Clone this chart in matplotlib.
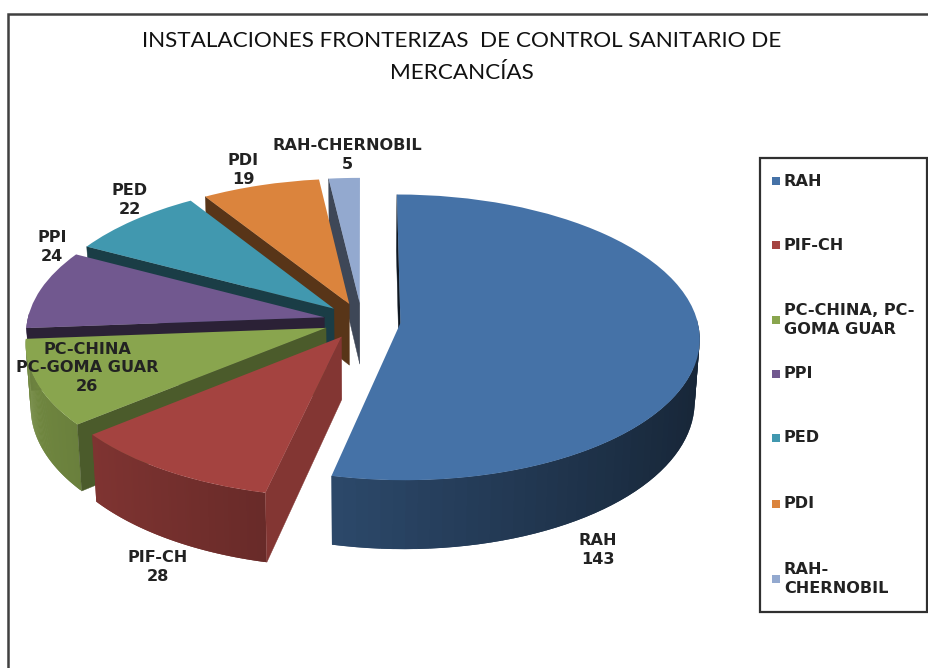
import numpy as np
import matplotlib
matplotlib.use("Agg")
import matplotlib.pyplot as plt
from matplotlib.collections import PolyCollection
from matplotlib.patches import Rectangle
from matplotlib.transforms import Transform

# data
CATEGORIES = ["RAH", "PIF-CH", "PC-CHINA, PC-\nGOMA GUAR", "PPI", "PED", "PDI", "RAH-\nCHERNOBIL"]
LABELS = ["RAH", "PIF-CH", "PC-CHINA\nPC-GOMA GUAR", "PPI", "PED", "PDI", "RAH-CHERNOBIL"]
VALUES = [143, 28, 26, 24, 22, 19, 5]
TITLE_LINES = ["INSTALACIONES FRONTERIZAS  DE CONTROL SANITARIO DE", "MERCANCÍAS"]

# style
COLORS = ["#4572A7", "#A44340", "#89A54E", "#71588F", "#4198AF", "#DB843D", "#93A9CF"]
FACE_SHADE = [0.2, 0.8, 0.55, 0.38, 0.4, 0.4, 0.42]
LABEL_POS = [(598, 550), (158, 567), (87, 368), (52, 247), (130, 200), (243, 170), (347, 155)]
LEGEND_Y = [181, 245, 320, 374, 438, 504, 579]
EXPLODE = 0.13

# projection of the tilted pie, in pixels
CX, CY, RX, RY = 362, 321, 297, 141
PERSP = 0.1
DEPTH = 62
BOTTOM_SCALE = 0.985


def project(u, v, low=False):
    w = 1 + PERSP * v
    x = CX + RX * u / w
    y = CY - RY * v / w
    if low:
        x = CX + (x - CX) * BOTTOM_SCALE
        y = y + DEPTH / w
    return x, y


class PieProjection(Transform):
    input_dims = 2
    output_dims = 2
    is_separable = False

    def transform_non_affine(self, values):
        x, y = project(values[:, 0], values[:, 1])
        return np.column_stack([x, y])


def shaded(color, factor):
    rgb = np.array(matplotlib.colors.to_rgb(color))
    return tuple(rgb * factor)


def draw_sides(ax, wedge, color, face_shade, zorder):
    cu, cv = wedge.center
    start = np.deg2rad(wedge.theta2)  # clockwise pie, so theta2 is the leading edge
    end = np.deg2rad(wedge.theta1)
    t = np.linspace(start, end, 90)
    u = cu + wedge.r * np.cos(t)
    v = cv + wedge.r * np.sin(t)

    # outer rim, lighter on the left, only the part that faces the viewer.
    # each strip overlaps the next one so no seams show
    xt, yt = project(u, v)
    xb, yb = project(u, v, low=True)
    quads, cols = [], []
    for i in range(len(t) - 1):
        if np.sin(t[i]) > 0.02 and np.sin(t[i + 1]) > 0.02:
            continue
        j = min(i + 2, len(t) - 1)
        quads.append([(xt[i], yt[i]), (xt[j], yt[j]), (xb[j], yb[j]), (xb[i], yb[i])])
        nx = np.cos((t[i] + t[i + 1]) / 2)
        cols.append(shaded(color, np.clip(0.58 - 0.25 * nx, 0, 1)))
    if quads:
        ax.add_collection(PolyCollection(quads, facecolors=cols, edgecolors="none", zorder=zorder))

    # cut face
    x0, y0 = project(np.array([cu, u[0]]), np.array([cv, v[0]]))
    x1, y1 = project(np.array([u[0], cu]), np.array([v[0], cv]), low=True)
    ax.fill(np.r_[x0, x1], np.r_[y0, y1], color=shaded(color, face_shade), lw=0.3, zorder=zorder + 0.1)


fig = plt.figure(figsize=(9.29, 6.68), dpi=100)
ax = fig.add_axes([0, 0, 1, 1])

wedges, _ = ax.pie(VALUES, explode=[EXPLODE] * len(VALUES), colors=COLORS, startangle=90,
                   counterclock=False, wedgeprops={"linewidth": 0})

ax.set_aspect("auto")
ax.set_xlim(0, 929)
ax.set_ylim(668, 0)
ax.axis("off")

to_pixels = PieProjection() + ax.transData
for i, (wedge, color, shade) in enumerate(zip(wedges, COLORS, FACE_SHADE)):
    # painter's order: small back slices first, RAH last
    order = 9 - i
    draw_sides(ax, wedge, color, shade, order)
    wedge.set_transform(to_pixels)
    wedge.set_zorder(order + 0.5)
    wedge.set_clip_on(False)

# chart frame
ax.plot([8, 8, 929], [668, 14, 14], color="#404040", lw=1.8, zorder=1, solid_joinstyle="miter")

# title
for line, y in zip(TITLE_LINES, [41, 73]):
    ax.text(462, y, line, ha="center", va="center", family="Lato", fontsize=16.2, color="#111111", zorder=20)

# data labels
for name, val, (x, y) in zip(LABELS, VALUES, LABEL_POS):
    ax.text(x, y, f"{name}\n{val}", ha="center", va="center", fontsize=11.6, fontweight="bold",
            color="#222222", linespacing=1.28, zorder=20)

# legend
ax.add_patch(Rectangle((760, 158), 167, 454, fc="white", ec="#303030", lw=1.6, zorder=15))
for cat, color, y in zip(CATEGORIES, COLORS, LEGEND_Y):
    ax.add_patch(Rectangle((772, y - 4), 8, 8, fc=color, ec="none", zorder=16))
    ax.text(784, y, cat, ha="left", va="center", fontsize=11.6, fontweight="bold",
            color="#222222", linespacing=1.35, zorder=20)

fig.savefig("out.png", dpi=100)
